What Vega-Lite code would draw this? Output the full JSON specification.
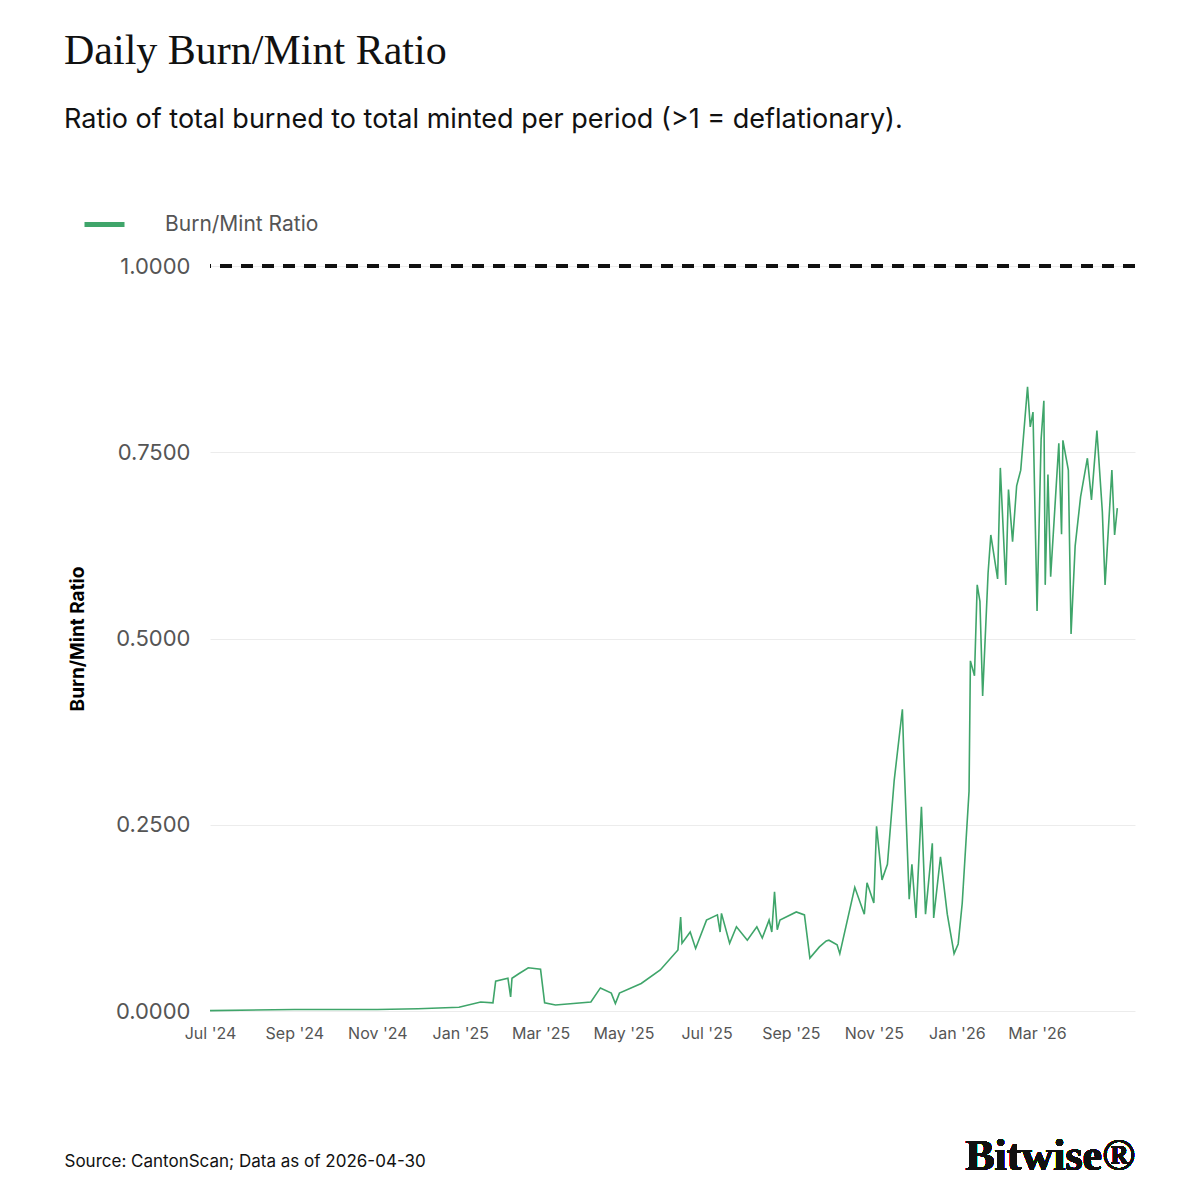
{
"$schema": "https://vega.github.io/schema/vega-lite/v6.json",
"autosize": "none",
"width": 925, "height": 745,
"padding": {"left": 210, "top": 266, "right": 65, "bottom": 189},
"background": "white",
"title": {
  "text": "Daily Burn/Mint Ratio",
  "subtitle": "Ratio of total burned to total minted per period (>1 = deflationary).",
  "anchor": "start", "frame": "group", "dx": -146, "offset": 68,
  "font": "Liberation Serif", "fontSize": 42, "fontWeight": "normal", "color": "#111",
  "subtitleFont": "Inter", "subtitleFontSize": 27, "subtitleColor": "#111", "subtitlePadding": 34
},
"config": {
  "view": {"stroke": null},
  "font": "Inter",
  "axis": {"labelFont": "Inter", "titleFont": "Inter"}
},
"data": {"values": [
  {"date": "2024-07-01", "ratio": 0.0005},
  {"date": "2024-09-01", "ratio": 0.002},
  {"date": "2024-11-01", "ratio": 0.002},
  {"date": "2024-12-01", "ratio": 0.003},
  {"date": "2024-12-31", "ratio": 0.005},
  {"date": "2025-01-16", "ratio": 0.012},
  {"date": "2025-01-25", "ratio": 0.011},
  {"date": "2025-01-27", "ratio": 0.040},
  {"date": "2025-02-05", "ratio": 0.044},
  {"date": "2025-02-07", "ratio": 0.019},
  {"date": "2025-02-08", "ratio": 0.044},
  {"date": "2025-02-13", "ratio": 0.050},
  {"date": "2025-02-20", "ratio": 0.058},
  {"date": "2025-03-01", "ratio": 0.056},
  {"date": "2025-03-04", "ratio": 0.011},
  {"date": "2025-03-12", "ratio": 0.008},
  {"date": "2025-04-07", "ratio": 0.012},
  {"date": "2025-04-14", "ratio": 0.031},
  {"date": "2025-04-22", "ratio": 0.024},
  {"date": "2025-04-25", "ratio": 0.010},
  {"date": "2025-04-28", "ratio": 0.024},
  {"date": "2025-05-14", "ratio": 0.037},
  {"date": "2025-05-28", "ratio": 0.055},
  {"date": "2025-06-10", "ratio": 0.082},
  {"date": "2025-06-12", "ratio": 0.126},
  {"date": "2025-06-13", "ratio": 0.091},
  {"date": "2025-06-19", "ratio": 0.106},
  {"date": "2025-06-23", "ratio": 0.084},
  {"date": "2025-07-01", "ratio": 0.122},
  {"date": "2025-07-09", "ratio": 0.129},
  {"date": "2025-07-11", "ratio": 0.106},
  {"date": "2025-07-12", "ratio": 0.131},
  {"date": "2025-07-18", "ratio": 0.091},
  {"date": "2025-07-23", "ratio": 0.113},
  {"date": "2025-07-31", "ratio": 0.095},
  {"date": "2025-08-07", "ratio": 0.113},
  {"date": "2025-08-11", "ratio": 0.098},
  {"date": "2025-08-16", "ratio": 0.122},
  {"date": "2025-08-18", "ratio": 0.106},
  {"date": "2025-08-20", "ratio": 0.160},
  {"date": "2025-08-22", "ratio": 0.109},
  {"date": "2025-08-24", "ratio": 0.122},
  {"date": "2025-09-05", "ratio": 0.133},
  {"date": "2025-09-11", "ratio": 0.129},
  {"date": "2025-09-15", "ratio": 0.071},
  {"date": "2025-09-22", "ratio": 0.086},
  {"date": "2025-09-27", "ratio": 0.094},
  {"date": "2025-09-29", "ratio": 0.095},
  {"date": "2025-10-05", "ratio": 0.089},
  {"date": "2025-10-07", "ratio": 0.077},
  {"date": "2025-10-18", "ratio": 0.166},
  {"date": "2025-10-25", "ratio": 0.130},
  {"date": "2025-10-27", "ratio": 0.172},
  {"date": "2025-11-01", "ratio": 0.145},
  {"date": "2025-11-03", "ratio": 0.248},
  {"date": "2025-11-07", "ratio": 0.176},
  {"date": "2025-11-11", "ratio": 0.197},
  {"date": "2025-11-16", "ratio": 0.310},
  {"date": "2025-11-22", "ratio": 0.405},
  {"date": "2025-11-23", "ratio": 0.346},
  {"date": "2025-11-27", "ratio": 0.150},
  {"date": "2025-11-29", "ratio": 0.197},
  {"date": "2025-12-02", "ratio": 0.125},
  {"date": "2025-12-06", "ratio": 0.274},
  {"date": "2025-12-09", "ratio": 0.130},
  {"date": "2025-12-14", "ratio": 0.225},
  {"date": "2025-12-15", "ratio": 0.125},
  {"date": "2025-12-20", "ratio": 0.207},
  {"date": "2025-12-25", "ratio": 0.130},
  {"date": "2025-12-30", "ratio": 0.077},
  {"date": "2026-01-02", "ratio": 0.090},
  {"date": "2026-01-05", "ratio": 0.145},
  {"date": "2026-01-10", "ratio": 0.295},
  {"date": "2026-01-11", "ratio": 0.470},
  {"date": "2026-01-14", "ratio": 0.450},
  {"date": "2026-01-16", "ratio": 0.572},
  {"date": "2026-01-18", "ratio": 0.550},
  {"date": "2026-01-20", "ratio": 0.423},
  {"date": "2026-01-24", "ratio": 0.588},
  {"date": "2026-01-26", "ratio": 0.639},
  {"date": "2026-01-31", "ratio": 0.580},
  {"date": "2026-02-02", "ratio": 0.729},
  {"date": "2026-02-06", "ratio": 0.572},
  {"date": "2026-02-08", "ratio": 0.700},
  {"date": "2026-02-11", "ratio": 0.630},
  {"date": "2026-02-14", "ratio": 0.705},
  {"date": "2026-02-17", "ratio": 0.726},
  {"date": "2026-02-22", "ratio": 0.838},
  {"date": "2026-02-24", "ratio": 0.784},
  {"date": "2026-02-26", "ratio": 0.804},
  {"date": "2026-03-01", "ratio": 0.537},
  {"date": "2026-03-04", "ratio": 0.768},
  {"date": "2026-03-06", "ratio": 0.819},
  {"date": "2026-03-07", "ratio": 0.572},
  {"date": "2026-03-09", "ratio": 0.720},
  {"date": "2026-03-11", "ratio": 0.583},
  {"date": "2026-03-17", "ratio": 0.762},
  {"date": "2026-03-19", "ratio": 0.640},
  {"date": "2026-03-20", "ratio": 0.766},
  {"date": "2026-03-24", "ratio": 0.726},
  {"date": "2026-03-26", "ratio": 0.506},
  {"date": "2026-03-29", "ratio": 0.624},
  {"date": "2026-04-02", "ratio": 0.690},
  {"date": "2026-04-07", "ratio": 0.742},
  {"date": "2026-04-10", "ratio": 0.686},
  {"date": "2026-04-14", "ratio": 0.779},
  {"date": "2026-04-18", "ratio": 0.670},
  {"date": "2026-04-20", "ratio": 0.572},
  {"date": "2026-04-25", "ratio": 0.726},
  {"date": "2026-04-27", "ratio": 0.639},
  {"date": "2026-04-29", "ratio": 0.675}
]},
"layer": [
  {
    "mark": {"type": "line", "strokeWidth": 1.6, "clip": false},
    "encoding": {
      "x": {"field": "date", "type": "temporal",
            "scale": {"domain": ["2024-07-01", "2026-05-12"]},
            "axis": {"format": "%b '%y",
                     "values": ["2024-07-01T00:00:00", "2024-09-01T00:00:00", "2024-11-01T00:00:00", "2025-01-01T00:00:00", "2025-03-01T00:00:00", "2025-05-01T00:00:00", "2025-07-01T00:00:00", "2025-09-01T00:00:00", "2025-11-01T00:00:00", "2026-01-01T00:00:00", "2026-03-01T00:00:00"],
                     "labelAlign": "center", "labelFlush": false, "labelOverlap": false,
                     "labelFontSize": 16, "labelColor": "#555", "ticks": false, "domain": false,
                     "grid": false, "labelPadding": 14,
                     "title": "Source: CantonScan; Data as of 2026-04-30",
                     "titleFontSize": 17, "titleFontWeight": "normal", "titleColor": "#111",
                     "titleAnchor": "start", "titleAlign": "left", "titleX": -146, "titleY": 142}},
      "y": {"field": "ratio", "type": "quantitative",
            "scale": {"domain": [0, 1]},
            "axis": {"values": [0, 0.25, 0.5, 0.75, 1], "format": ".4f",
                     "labelFontSize": 22, "labelColor": "#555", "labelPadding": 20,
                     "ticks": false, "domain": false, "gridColor": "#ececec",
                     "title": "Burn/Mint Ratio", "titleFontSize": 19, "titleFontWeight": "bold",
                     "titleColor": "#000", "titlePadding": 28}},
      "color": {"datum": "Burn/Mint Ratio", "type": "nominal",
                "scale": {"range": ["#3fa56a"]},
                "legend": {"title": null, "orient": "none", "legendX": -128, "legendY": -64,
                           "symbolType": "stroke", "symbolStrokeWidth": 5, "symbolSize": 1600,
                           "labelFontSize": 21, "labelColor": "#555", "labelOffset": 38}}
    }
  },
  {
    "mark": {"type": "rule", "strokeDash": [12, 9], "strokeWidth": 3, "color": "#111"},
    "encoding": {"y": {"datum": 1}}
  },
  {
    "mark": {"type": "text", "font": "Liberation Serif", "fontSize": 44, "fontWeight": "bold",
             "align": "right", "baseline": "alphabetic", "color": "#111", "clip": false},
    "encoding": {
      "x": {"datum": {"year": 2026, "month": 5, "date": 12}, "type": "temporal"},
      "y": {"datum": -0.213},
      "text": {"value": "Bitwise®"}
    }
  }
]
}
